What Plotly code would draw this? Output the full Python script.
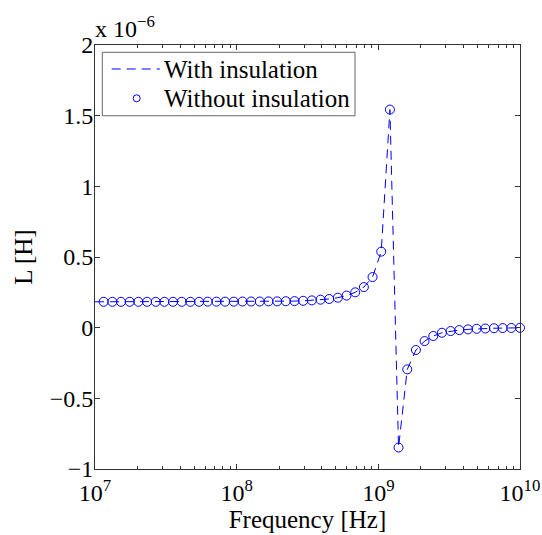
import plotly.graph_objects as go

# Frequency grid [Hz]
freq = [1.000e7, 1.151e7, 1.326e7, 1.526e7, 1.758e7, 2.024e7, 2.330e7, 2.683e7, 3.089e7, 3.556e7,
        4.095e7, 4.715e7, 5.429e7, 6.251e7, 7.197e7, 8.286e7, 9.541e7, 1.099e8, 1.265e8, 1.456e8,
        1.677e8, 1.931e8, 2.223e8, 2.560e8, 2.947e8, 3.393e8, 3.907e8, 4.498e8, 5.179e8, 5.964e8,
        6.866e8, 7.906e8, 9.103e8, 1.048e9, 1.207e9, 1.389e9, 1.600e9, 1.842e9, 2.121e9, 2.442e9,
        2.812e9, 3.237e9, 3.728e9, 4.292e9, 4.942e9, 5.690e9, 6.551e9, 7.543e9, 8.685e9, 1.000e10]

# Inductance (x 1e-6 H)
L_with = [0.183, 0.183, 0.183, 0.183, 0.183, 0.183, 0.183, 0.183, 0.183, 0.183,
          0.183, 0.183, 0.183, 0.184, 0.184, 0.184, 0.184, 0.185, 0.185, 0.185,
          0.186, 0.186, 0.187, 0.188, 0.190, 0.193, 0.198, 0.203, 0.212, 0.227,
          0.250, 0.287, 0.358, 0.538, 1.543, -0.848, -0.295, -0.158, -0.095, -0.059,
          -0.036, -0.024, -0.017, -0.012, -0.008, -0.006, -0.004, -0.003, -0.002, -0.001]

freq_without = freq[1:]
L_without = L_with[1:]

series_names = ["With insulation", "Without insulation"]

x_tickvals = [1e7, 1e8, 1e9, 1e10]
x_ticktext = ["10<sup>7</sup>", "10<sup>8</sup>", "10<sup>9</sup>", "10<sup>10</sup>"]
y_tickvals = [-1, -0.5, 0, 0.5, 1, 1.5, 2]
y_ticktext = ["\u22121", "\u22120.5", "0", "0.5", "1", "1.5", "2"]

minor_vals = [m * 10 ** e for e in range(7, 10) for m in range(2, 10)]

FONT = "Liberation Serif"
AX = "#333333"
BLUE = "#0000ff"
DASH = "9px,6px"

fig = go.Figure()
fig.add_trace(go.Scatter(
    x=freq, y=L_with, mode="lines", name=series_names[0],
    line=dict(color=BLUE, width=1, dash=DASH),
))
fig.add_trace(go.Scatter(
    x=freq_without, y=L_without, mode="markers", name=series_names[1],
    marker=dict(symbol="circle-open", size=9, color=BLUE, line=dict(width=1, color=BLUE)),
    cliponaxis=False,
))

fig.update_layout(
    width=542, height=535,
    margin=dict(l=95, r=22, t=45, b=66),
    paper_bgcolor="white", plot_bgcolor="white",
    font=dict(family=FONT, size=24, color="black"),
    showlegend=False,
    xaxis=dict(
        type="log", range=[7, 10], automargin=False,
        tickmode="array", tickvals=x_tickvals, ticktext=x_ticktext,
        ticks="inside", ticklen=5, tickwidth=1, tickcolor=AX,
        minor=dict(tickmode="array", tickvals=minor_vals, ticks="inside", ticklen=3, tickcolor=AX, tickwidth=1),
        showline=True, linecolor=AX, linewidth=1, mirror="ticks",
        showgrid=False, zeroline=False,
        ticklabelstandoff=2,
        title=dict(text="Frequency [Hz]", standoff=0, font=dict(family=FONT, size=25)),
        tickfont=dict(family=FONT, size=24),
    ),
    yaxis=dict(
        range=[-1, 2], automargin=False,
        tickmode="array", tickvals=y_tickvals, ticktext=y_ticktext,
        ticks="inside", ticklen=5, tickwidth=1, tickcolor=AX,
        showline=True, linecolor=AX, linewidth=1, mirror="ticks",
        showgrid=False, zeroline=False,
        ticklabelstandoff=-4,
        title=dict(text="L [H]", standoff=9, font=dict(family=FONT, size=25)),
        tickfont=dict(family=FONT, size=24),
    ),
)

# exponent label
fig.add_annotation(
    x=0, y=1, xref="paper", yref="paper", xanchor="left", yanchor="bottom",
    text="x 10<sup>\u22126</sup>", showarrow=False,
    font=dict(family=FONT, size=24, color="black"), xshift=-2, yshift=1,
)

# legend (drawn as a boxed key)
fig.add_shape(type="rect", xref="paper", yref="paper",
              x0=0.0172, x1=0.6118, y0=0.8332, y1=0.9828,
              fillcolor="white", line=dict(color="#666666", width=1), layer="above")
fig.add_shape(type="line", xref="paper", yref="paper",
              x0=0.0393, x1=0.1529, y0=0.9434, y1=0.9434,
              line=dict(color=BLUE, width=1, dash=DASH), layer="above")
fig.add_shape(type="circle", xref="paper", yref="paper",
              xsizemode="pixel", ysizemode="pixel", xanchor=0.0981, yanchor=0.8743,
              x0=-3.5, x1=3.5, y0=-3.5, y1=3.5,
              line=dict(color=BLUE, width=1), layer="above")
fig.add_annotation(x=0.158, y=0.9422, xref="paper", yref="paper", xanchor="left", yanchor="middle",
                   text=series_names[0], showarrow=False, font=dict(family=FONT, size=25, color="black"))
fig.add_annotation(x=0.158, y=0.8738, xref="paper", yref="paper", xanchor="left", yanchor="middle",
                   text=series_names[1], showarrow=False, font=dict(family=FONT, size=25, color="black"))

fig.write_html("out.html")
